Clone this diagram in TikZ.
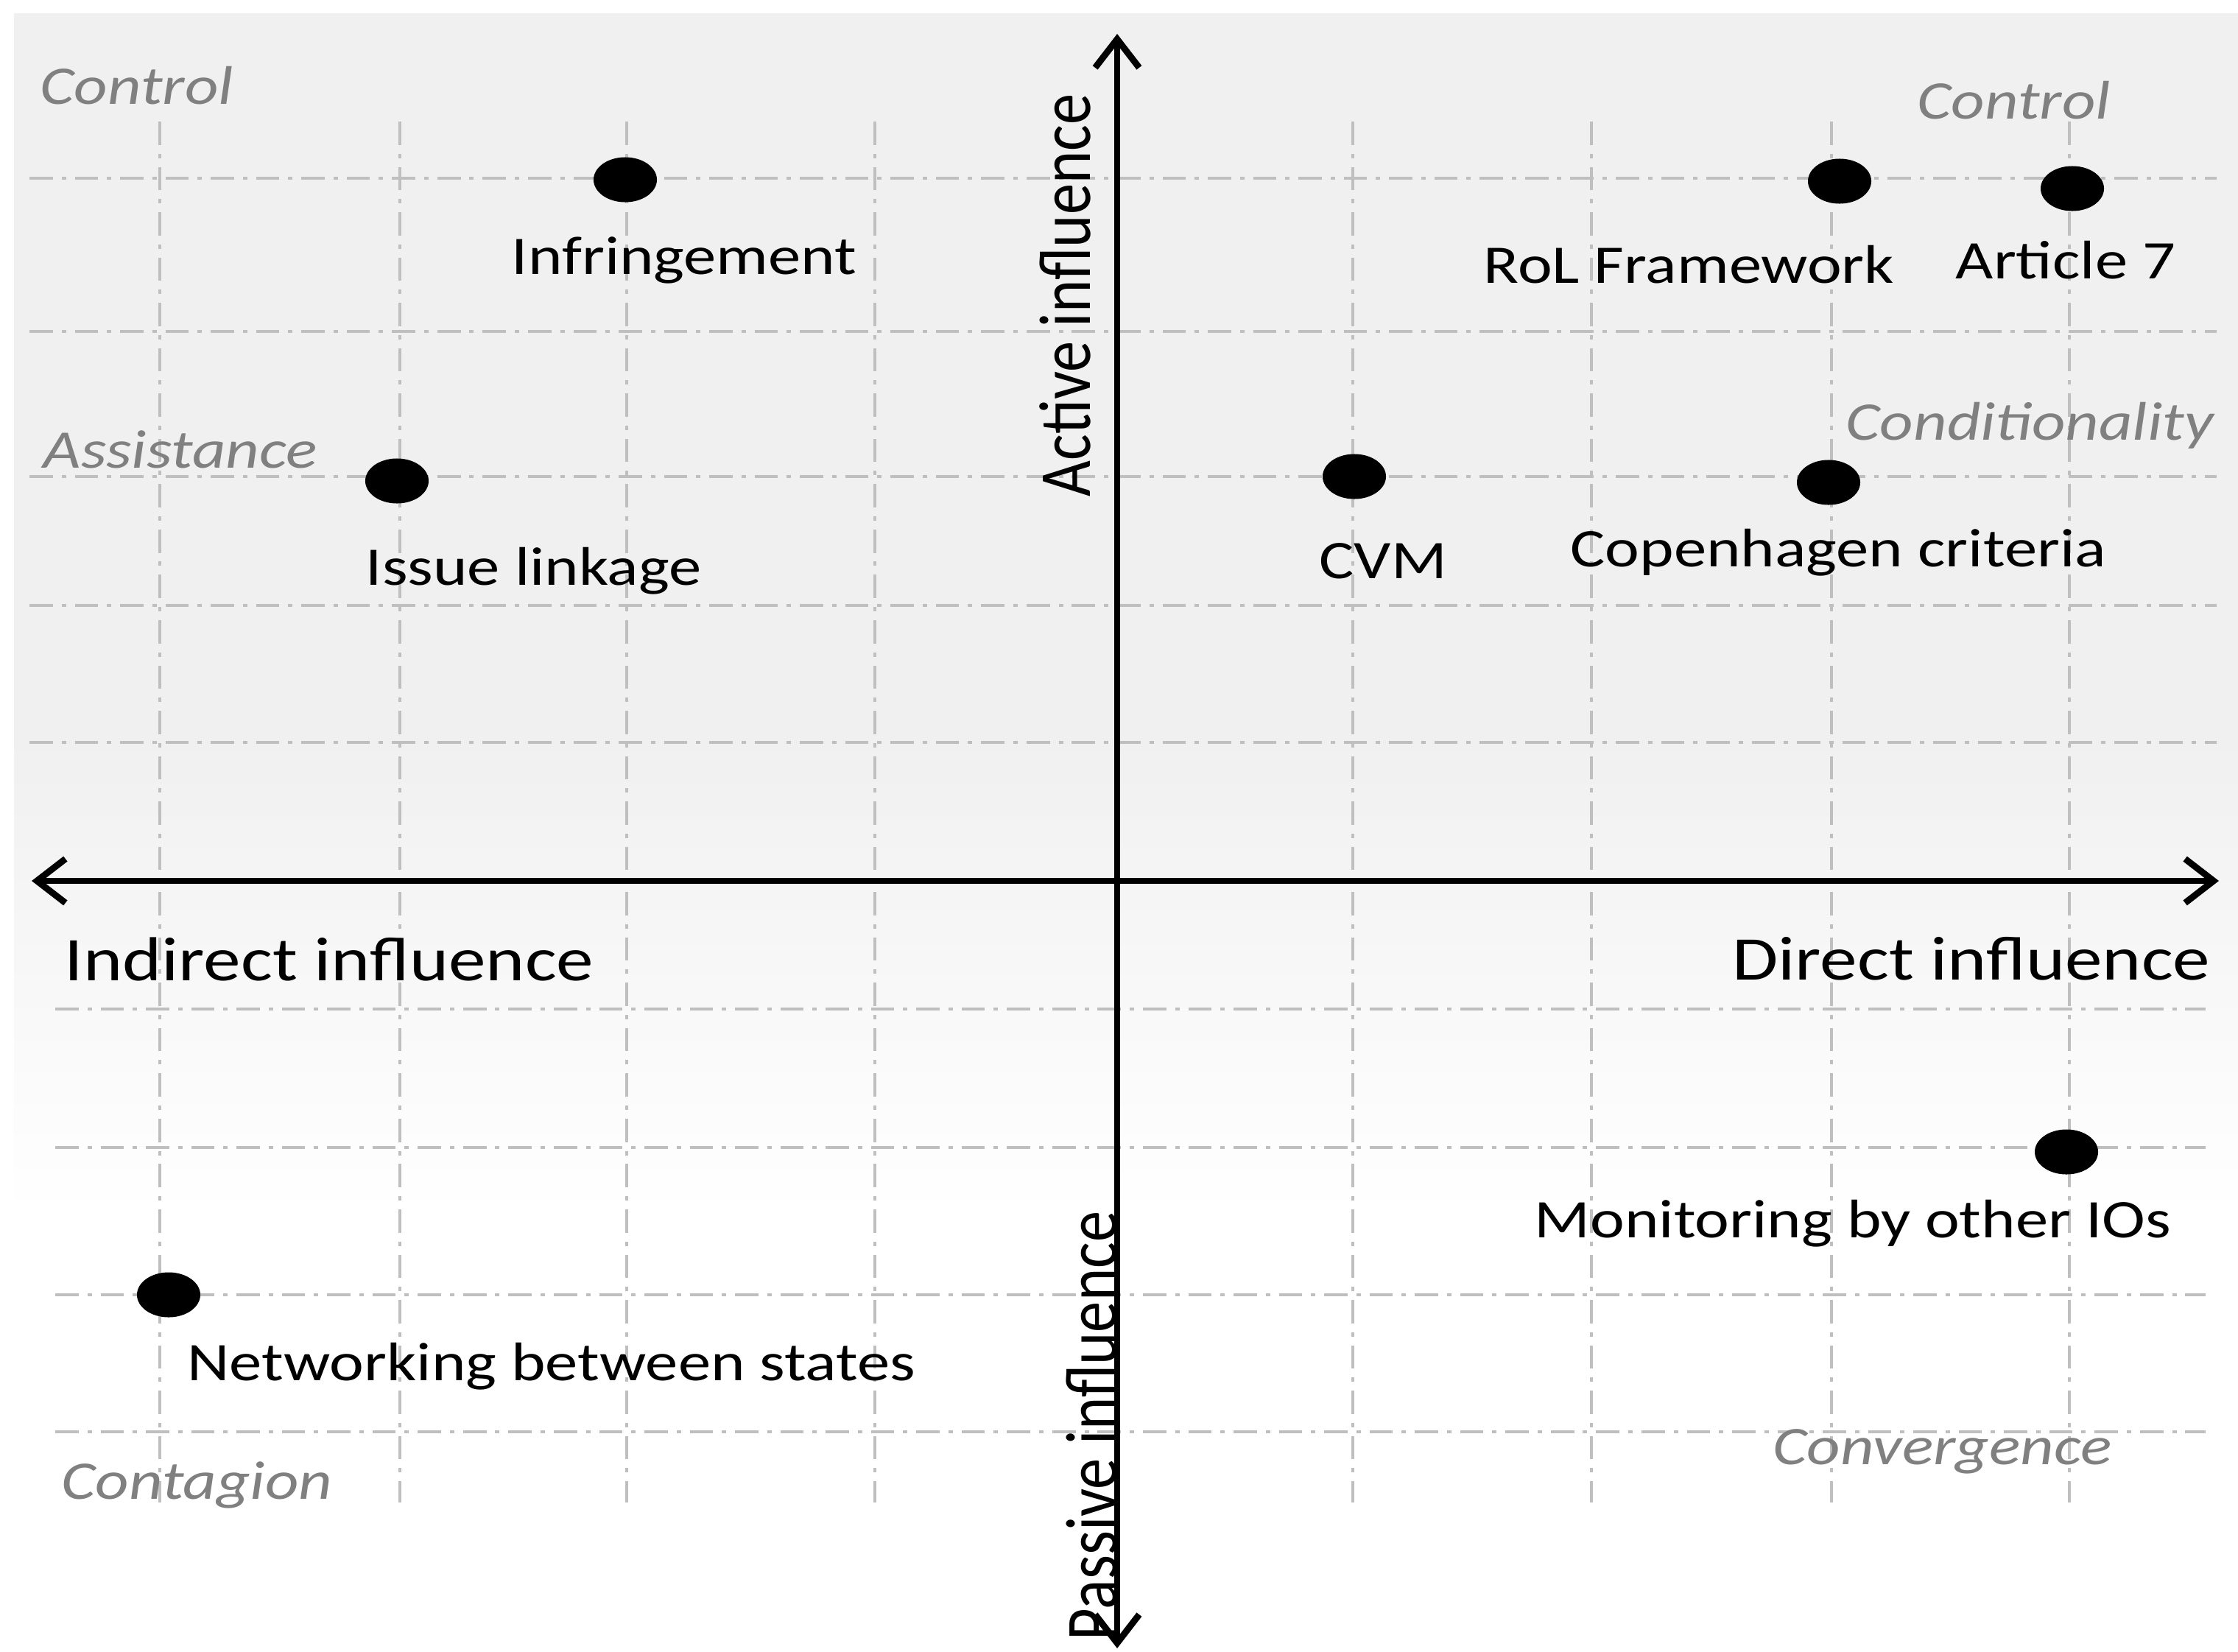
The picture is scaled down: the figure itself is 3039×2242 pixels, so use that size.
\documentclass[tikz,border=0pt]{standalone}
\usepackage{fontspec}
\setmainfont{Carlito}[FakeStretch=1.2]
\newfontfamily\axisfont{Carlito}
\usetikzlibrary{arrows.meta,shapes.geometric}
\definecolor{bggray}{HTML}{F0F0F0}
\definecolor{gridgray}{HTML}{BFBFBF}
\definecolor{typegray}{HTML}{808080}
\tikzset{
  dot/.style={ellipse, fill, inner sep=0pt, minimum width=0.86cm, minimum height=0.61cm},
  item/.style={anchor=west, inner sep=0pt, font=\fontsize{21}{25}\selectfont},
  mode/.style={anchor=west, inner sep=0pt, text=typegray, font=\fontsize{21}{25}\selectfont\itshape},
  gridline/.style={gridgray, line width=1.4pt, dash pattern=on 9pt off 3.4pt on 1.7pt off 3.4pt},
  axis/.style={line width=2.5pt, <->},
  axislabel/.style={inner sep=0pt, font=\fontsize{24}{28}\selectfont}
}

\begin{document}
\begin{tikzpicture}[x=0.01cm, y=-0.01cm, >={Straight Barb[length=11pt,width=17pt]}]
        \useasboundingbox (0,0) rectangle (3039,2242);
        \fill[bggray] (19,18) rectangle (3039,1000);
        \shade[top color=bggray, bottom color=white] (19,999) rectangle (3039,1650);

        % grid
        \foreach \x in {217,543,851,1188,1837,2161,2487,2810}
            \draw[gridline] (\x,165) -- (\x,2040);
        \foreach \y in {242,450,647,822,1008}
            \draw[gridline] (40,\y) -- (3010,\y);
        \foreach \y in {1370,1558,1758,1944}
            \draw[gridline] (75,\y) -- (2995,\y);

        % modes of influence
        \node[mode] (control-l) at (54,116) {Control};
        \node[mode] (control-r) at (2603,136) {Control};
        \node[mode] (assist) at (58,610) {Assistance};
        \node[mode] (cond) at (2506,578) {Conditionality};
        \node[mode] (contag) at (83,2016) {Contagion};
        \node[mode] (conv) at (2407,1971) {Convergence};

        % instruments
        \node[dot] (infr) at (849,244) {};
        \node[dot] (issue) at (539,653) {};
        \node[dot] (rol) at (2498,246) {};
        \node[dot] (art) at (2814,256) {};
        \node[dot] (cvm) at (1839,647) {};
        \node[dot] (cop) at (2483,655) {};
        \node[dot] (mon) at (2806,1564) {};
        \node[dot] (net) at (229,1758) {};

        \node[item] (infr-l) at (694,353) {Infringement};
        \node[item] (issue-l) at (496,775) {Issue linkage};
        \node[item] (rol-l) at (2014,359) {RoL Framework};
        \node[item] (art-l) at (2655,353) {Article 7};
        \node[item] (cvm-l) at (1791,762) {CVM};
        \node[item] (cop-l) at (2132,750) {Copenhagen criteria};
        \node[item] (mon-l) at (2083,1661) {Monitoring by other IOs};
        \node[item] (net-l) at (254,1855) {Networking between states};

        % axes
        \coordinate (west) at (43,1196);
        \coordinate (east) at (3013,1196);
        \coordinate (north) at (1517,46);
        \coordinate (south) at (1517,2238);
        \node[axislabel, anchor=west] (indirect) at (87,1302) {Indirect influence};
        \node[axislabel, anchor=east] (direct) at (3002,1302) {Direct influence};
        \node[axislabel, rotate=90, font=\axisfont\fontsize{24}{28}\selectfont] (active) at (1446,401) {\scalebox{1}[1.18]{Active influence}};
        \node[axislabel, rotate=90, font=\axisfont\fontsize{24}{28}\selectfont] (passive) at (1483,1936) {\scalebox{1}[1.18]{Passive influence}};
        \draw[axis] (west) -- (east);
        \draw[axis] (south) -- (north);
\end{tikzpicture}
\end{document}
